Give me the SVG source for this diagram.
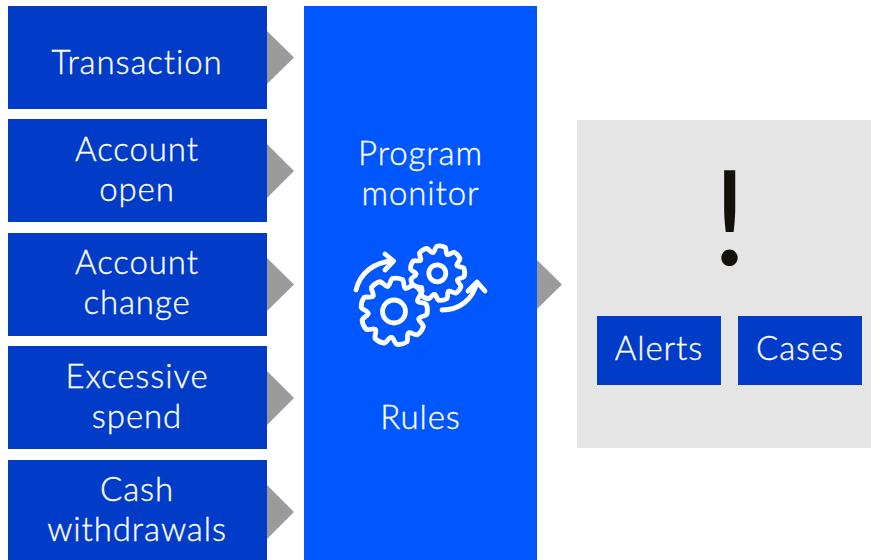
<svg xmlns="http://www.w3.org/2000/svg" width="871" height="560" viewBox="0 0 871 560">
<style>
.box{fill:#003cc8}
.arrow{fill:#9b9b9c}
text{font-family:"Lato","Noto Sans",sans-serif;font-weight:300;font-size:33px;fill:#fff;stroke:#fff;stroke-width:.35px;text-anchor:middle;letter-spacing:.9px}
.icon{fill:none;stroke:#fff;stroke-width:4.8;stroke-linecap:round;stroke-linejoin:round}
.gear{fill:#0057ff;stroke:#fff;stroke-width:4.8;stroke-linejoin:round;stroke-linecap:round}
</style>
<defs>
<path id="tooth" d="M-8.9,-24.4 C-6.5,-25 -7.500,-30 -5.2,-32.6 Q0,-34.5 5.2,-32.6 C7.500,-30 6.500,-25 8.9,-24.4"/>
<g id="gear">
<circle r="25" fill="#0057ff" stroke="none"/>
<use href="#tooth"/><use href="#tooth" transform="rotate(40)"/><use href="#tooth" transform="rotate(80)"/>
<use href="#tooth" transform="rotate(120)"/><use href="#tooth" transform="rotate(160)"/><use href="#tooth" transform="rotate(200)"/>
<use href="#tooth" transform="rotate(240)"/><use href="#tooth" transform="rotate(280)"/><use href="#tooth" transform="rotate(320)"/>
</g>
</defs>
<rect width="871" height="560" fill="#fff"/>
<g id="connectors">
<polygon class="arrow" points="267,31 294,57.500 267,84"/>
<polygon class="arrow" points="267,144 294,171 267,198"/>
<polygon class="arrow" points="267,258 294,284.500 267,311"/>
<polygon class="arrow" points="267,371 294,398 267,425"/>
<polygon class="arrow" points="267,485 294,512 267,539"/>
<polygon class="arrow" points="537,260 562,284.500 537,309"/>
</g>
<g id="node-transaction"><rect class="box" x="8" y="6" width="259" height="103"/><text x="137" y="74">Transaction</text></g>
<g id="node-account-open"><rect class="box" x="8" y="119" width="259" height="103"/><text x="137" y="160.500">Account</text><text x="137" y="200.500">open</text></g>
<g id="node-account-change"><rect class="box" x="8" y="233" width="259" height="103"/><text x="137" y="273.500">Account</text><text x="137" y="314">change</text></g>
<g id="node-excessive-spend"><rect class="box" x="8" y="346" width="259" height="103"/><text x="137" y="387.500">Excessive</text><text x="137" y="427.500">spend</text></g>
<g id="node-cash-withdrawals"><rect class="box" x="8" y="460" width="259" height="103"/><text x="137" y="501">Cash</text><text x="137" y="541">withdrawals</text></g>
<g id="node-program-monitor">
<rect x="304" y="6" width="233" height="554" fill="#0057ff"/>
<text x="420.500" y="165">Program</text><text x="420.500" y="205">monitor</text>
<text x="420.500" y="429">Rules</text>
<g transform="translate(437.300,273.300) rotate(8) scale(.82)" class="gear" style="stroke-width:5.800"><use href="#gear"/></g>
<circle class="icon" cx="437.300" cy="273.300" r="8.500"/>
<circle cx="420" cy="291" r="4.500" fill="#fff"/>
<g transform="translate(394,311.500) rotate(6)" class="gear"><use href="#gear"/></g>
<circle class="icon" cx="394" cy="311.500" r="11.500"/>
<path class="icon" d="M356,290 C360,273 374,262 393,261 M385,254 L393.500,261 L385,270"/>
<path class="icon" d="M442,310 C459,310 473,300 477,282 M468,291 L477,282 L485,291"/>
</g>
<g id="node-output">
<rect x="577" y="120" width="294" height="328" fill="#e5e5e5"/>
<text x="729.500" y="265" style="font-weight:400;stroke:none;font-size:131px;fill:#12110b;letter-spacing:0">!</text>
</g>
<g id="node-alerts"><rect class="box" x="597" y="316" width="124" height="69"/><text x="659" y="360">Alerts</text></g>
<g id="node-cases"><rect class="box" x="738" y="316" width="124" height="69"/><text x="800" y="360">Cases</text></g>
</svg>
